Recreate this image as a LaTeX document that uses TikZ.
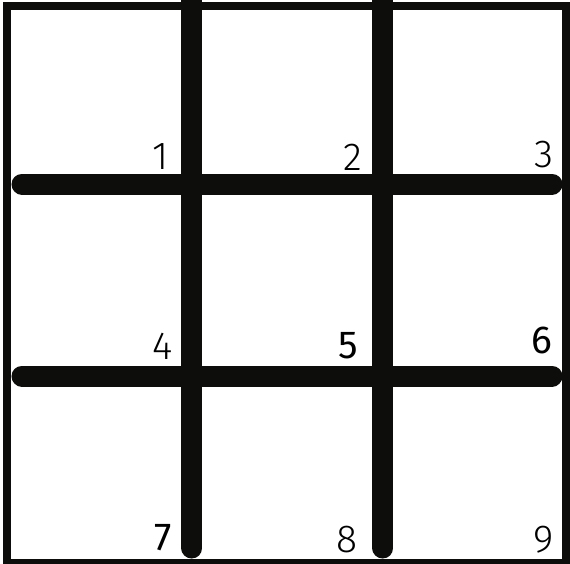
\documentclass[tikz,border=0pt]{standalone}
\usepackage{fontspec}
\usepackage{tikz}
\usetikzlibrary{positioning}
\newfontfamily\numlight{Fira Sans Light}
\newfontfamily\numheavy{Fira Sans}
\definecolor{GridBlack}{HTML}{0D0D0B}

\begin{document}
\begin{tikzpicture}[x=0.5pt, y=-0.5pt,
        bar/.style={draw=GridBlack, line width=10.5pt, line cap=round},
        num/.style={inner sep=0pt, font=\numlight\fontsize{19.5}{19.5}\selectfont},
        numbig/.style={inner sep=0pt, font=\numheavy\fontsize{19.5}{19.5}\selectfont}]

        \useasboundingbox (0,0) rectangle (570,564);
        \fill[white] (0,0) rectangle (570,564);

        % Outer frame
        \draw[GridBlack, line width=4pt] (7,6) rectangle (566,563);

        % Grid bars
        \draw[bar] (192,0)  -- (192,548);
        \draw[bar] (383,0)  -- (383,548);
        \draw[bar] (22,184) -- (552,184);
        \draw[bar] (22,376) -- (552,376);

        % Cell numbers
        \node[num]    (n1) at (161,157) {1};
        \node[num]    (n2) at (353,157) {2};
        \node[num]    (n3) at (544,155) {3};
        \node[num]    (n4) at (163,346) {4};
        \node[numbig] (n5) at (348,346) {5};
        \node[numbig] (n6) at (542,340) {6};
        \node[numbig] (n7) at (163,538) {7};
        \node[num]    (n8) at (347,540) {8};
        \node[num]    (n9) at (544,540) {9};
      \end{tikzpicture}
\end{document}
